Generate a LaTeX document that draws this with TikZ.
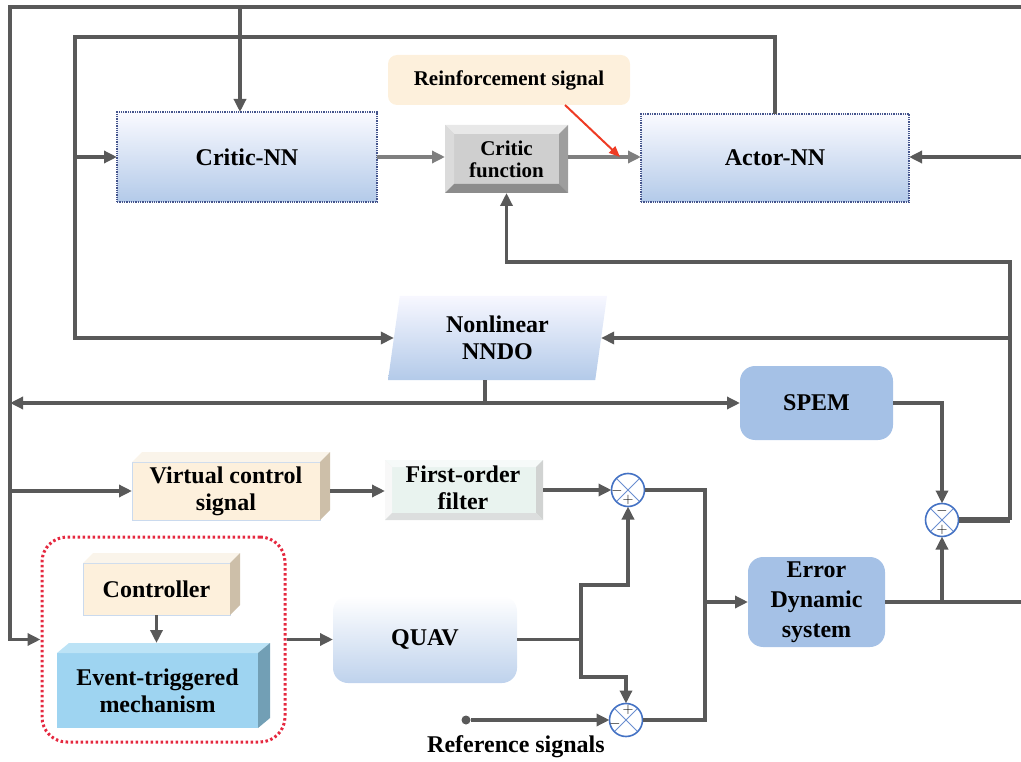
\documentclass[tikz,border=0pt]{standalone}
\usepackage{fontspec}
\setmainfont{Liberation Serif}
\usetikzlibrary{arrows.meta,shapes.geometric}
\definecolor{wiregray}{HTML}{595959}
\definecolor{softgray}{HTML}{7F7F7F}
\definecolor{nnblue}{HTML}{B3CAE9}
\definecolor{nnedge}{HTML}{44548C}
\definecolor{boxblue}{HTML}{A5C1E6}
\definecolor{sumblue}{HTML}{4472C4}
\definecolor{cream}{HTML}{FDF0DC}
\definecolor{creamtop}{HTML}{FAF4EA}
\definecolor{creamside}{HTML}{CDBFA9}
\definecolor{creamedge}{HTML}{CADAEE}
\definecolor{sky}{HTML}{9ED4F1}
\definecolor{skytop}{HTML}{BCE3F6}
\definecolor{skyside}{HTML}{729FB5}
\definecolor{mint}{HTML}{E9F3EF}
\definecolor{dotred}{HTML}{E5283F}
\definecolor{arrred}{HTML}{EE3B24}

\tikzset{
  lbl/.style={font=\bfseries\fontsize{24}{27}\selectfont, align=center,
    inner sep=0pt, outer sep=0pt},
  small lbl/.style={lbl, font=\bfseries\fontsize{21}{22}\selectfont},
  nnbox/.style={lbl, rectangle, draw=nnedge, densely dotted, line width=1.3pt,
    top color=blue!2, bottom color=nnblue},
  bluebox/.style={lbl, rectangle, rounded corners=15pt, fill=boxblue},
  quavbox/.style={lbl, rectangle, rounded corners=15pt, top color=white,
    bottom color=nnblue!85},
  note/.style={lbl, small lbl, rectangle, rounded corners=9pt, fill=cream},
  nndobox/.style={lbl, trapezium, trapezium left angle=75,
    trapezium right angle=105, trapezium stretches body,
    top color=blue!3, bottom color=nnblue},
  creambox/.style={lbl, rectangle, fill=cream, draw=creamedge, line width=0.8pt},
  skybox/.style={lbl, rectangle, fill=sky},
  wire/.style={draw=wiregray, line width=3.6pt},
  arr/.style={wire, -{Triangle[length=13pt,width=12pt]}},
  garr/.style={draw=softgray, line width=3.4pt, -{Triangle[length=13pt,width=12pt]}},
  redarr/.style={draw=arrred, line width=2pt, -{Triangle[length=11pt,width=9pt]}},
  sum/.style={circle, draw=sumblue, line width=1.6pt, minimum size=33pt,
    inner sep=0pt, outer sep=0pt, fill=white,
    path picture={\draw[sumblue!80, line width=1pt]
      (path picture bounding box.north west) -- (path picture bounding box.south east)
      (path picture bounding box.north east) -- (path picture bounding box.south west);}},
  sign/.style={font=\fontsize{15}{15}\selectfont, inner sep=0pt},
}

\begin{document}
\begin{tikzpicture}[x=1pt,y=-1pt]
\useasboundingbox (0,0) rectangle (1021,762);

% actor / critic part
\node[nnbox, minimum width=260, minimum height=90] (critic) at (247,157) {Critic-NN};
\node[nnbox, minimum width=268, minimum height=88] (actor) at (775,158) {Actor-NN};
\node[small lbl, rectangle, fill=black!19, minimum width=123, minimum height=68]
  (cfun) at (506.5,159) {Critic\\function};
\fill[black!9] (cfun.north west) -- (cfun.north east)
  -- ([shift={(-9,9)}]cfun.north east) -- ([shift={(9,9)}]cfun.north west) -- cycle;
\fill[black!14] (cfun.north west) -- ([shift={(9,9)}]cfun.north west)
  -- ([shift={(9,-9)}]cfun.south west) -- (cfun.south west) -- cycle;
\fill[black!38] (cfun.north east) -- ([shift={(-9,9)}]cfun.north east)
  -- ([shift={(-9,-9)}]cfun.south east) -- (cfun.south east) -- cycle;
\fill[black!45] (cfun.south west) -- ([shift={(9,-9)}]cfun.south west)
  -- ([shift={(-9,-9)}]cfun.south east) -- (cfun.south east) -- cycle;
\node[note, minimum width=242, minimum height=50] (reinf) at (509,80) {Reinforcement signal};
\node[nndobox, minimum width=219, minimum height=84] (nndo) at (497.5,338) {Nonlinear\\NNDO};
\node[bluebox, minimum width=153, minimum height=74] (spem) at (816.5,403) {SPEM};
\node[bluebox, minimum width=137, minimum height=90,
  font=\bfseries\fontsize{24}{30}\selectfont] (err) at (816.5,602) {Error\\Dynamic\\system};

% virtual control and filter
\node[creambox, minimum width=188, minimum height=58] (vcs) at (226,491) {Virtual control\\signal};
\fill[creamtop] (vcs.north west) -- ([shift={(10,-10)}]vcs.north west)
  -- ([shift={(10,-10)}]vcs.north east) -- (vcs.north east) -- cycle;
\fill[creamside] (vcs.north east) -- ([shift={(10,-10)}]vcs.north east)
  -- ([shift={(10,-10)}]vcs.south east) -- (vcs.south east) -- cycle;
\node[lbl, rectangle, fill=mint, minimum width=158, minimum height=60] (filt) at (464,490) {};
\fill[mint!40] (filt.north west) -- (filt.north east)
  -- ([shift={(-7,7)}]filt.north east) -- ([shift={(7,7)}]filt.north west) -- cycle;
\fill[mint!70!black!8] (filt.north west) -- ([shift={(7,7)}]filt.north west)
  -- ([shift={(7,-7)}]filt.south west) -- (filt.south west) -- cycle;
\fill[mint!60!black!40] (filt.north east) -- ([shift={(-7,7)}]filt.north east)
  -- ([shift={(-7,-7)}]filt.south east) -- (filt.south east) -- cycle;
\fill[mint!60!black!30] (filt.south west) -- ([shift={(7,-7)}]filt.south west)
  -- ([shift={(-7,-7)}]filt.south east) -- (filt.south east) -- cycle;
\node[lbl] (filttxt) at (463,488) {First-order\\filter};

% event-triggered part
\node[rectangle, draw=dotred, line width=3pt, dash pattern=on 2.5pt off 2.5pt,
  rounded corners=25pt, minimum width=243, minimum height=205] (trig) at (163.5,639.5) {};
\node[creambox, minimum width=147, minimum height=52] (ctrl) at (156.5,589) {Controller};
\fill[creamtop] (ctrl.north west) -- ([shift={(10,-10)}]ctrl.north west)
  -- ([shift={(10,-10)}]ctrl.north east) -- (ctrl.north east) -- cycle;
\fill[creamside] (ctrl.north east) -- ([shift={(10,-10)}]ctrl.north east)
  -- ([shift={(10,-10)}]ctrl.south east) -- (ctrl.south east) -- cycle;
\node[skybox, minimum width=201, minimum height=75] (etm) at (157.5,690.5) {Event-triggered\\mechanism};
\fill[skytop] (etm.north west) -- ([shift={(12,-10)}]etm.north west)
  -- ([shift={(12,-10)}]etm.north east) -- (etm.north east) -- cycle;
\fill[skyside] (etm.north east) -- ([shift={(12,-10)}]etm.north east)
  -- ([shift={(12,-10)}]etm.south east) -- (etm.south east) -- cycle;
\node[quavbox, minimum width=184, minimum height=87] (quav) at (425,639.5) {QUAV};

% summing junctions
\node[sum] (s1) at (628,490) {};
\node[sum] (s2) at (942,520) {};
\node[sum] (s3) at (626,720) {};
\node[sign] (s1m) at ([shift={(-11,1)}]s1.center) {$-$};
\node[sign] (s1p) at ([shift={(0,10)}]s1.center) {$+$};
\node[sign] (s2m) at ([shift={(0,-9)}]s2.center) {$-$};
\node[sign] (s2p) at ([shift={(0,10)}]s2.center) {$+$};
\node[sign] (s3p) at ([shift={(2,-10)}]s3.center) {$+$};
\node[sign] (s3m) at ([shift={(-11,4)}]s3.center) {$-$};
\node[circle, fill=wiregray, inner sep=0pt, minimum size=9pt] (refdot) at (466,720) {};
\node[lbl] (reflab) at (516,747) {Reference signals};

% free ends and bends
\coordinate (topR) at (1021,7);
\coordinate (topL) at (10,7);
\coordinate (topC) at (240,7);
\coordinate (loopL) at (75,37);
\coordinate (inAct) at (1021,157);
\coordinate (fbR) at (1010,262);
\coordinate (nsplit) at (485,403);
\coordinate (rhit) at (620,157);
\coordinate (mrg) at (705,602);
\coordinate (qsplit) at (581,639.5);
\coordinate (qup) at (581,585);
\coordinate (qdn) at (581,677);
\coordinate (outR) at (1021,602);
\coordinate (etmtop) at ([shift={(0,-10)}]etm.north);

% connectors
\draw[arr] (topR) -- (topL) |- (trig.west);
\draw[arr] (topC) -- (topC |- critic.north);
\draw[arr] (topL |- vcs.west) -- (vcs.west);
\draw[arr] (actor.north) |- (loopL) |- (nndo.west);
\draw[arr] (loopL |- critic.west) -- (critic.west);
\draw[garr] (critic.east) -- (critic.east -| cfun.west);
\draw[garr] (cfun.east |- critic.east) -- (critic.east -| actor.west);
\draw[redarr] ([xshift=56pt]reinf.south) -- (rhit);
\draw[arr] (inAct) -- (inAct -| actor.east);
\draw[wire, line width=5.5pt] (s2.east) -- (s2.east -| fbR);
\draw[arr] (s2.east -| fbR) -- (fbR) -| (cfun.south);
\draw[arr] (fbR |- nndo.east) -- (nndo.east);
\draw[wire] (nndo.south -| nsplit) -- (nsplit);
\draw[arr] (nsplit) -- (spem.west);
\draw[arr] (nsplit) -- (topL |- nsplit);
\draw[arr] (spem.east) -| (s2.north);
\draw[wire] (err.east) -- (outR);
\draw[arr] (s2.south |- err.east) -- (s2.south);
\draw[arr] ([xshift=10pt]vcs.east) -- (vcs.east -| filt.west);
\draw[arr] (filt.east) -- (s1.west);
\draw[wire] (s1.east) -| (mrg);
\draw[wire] (s3.east) -| (mrg);
\draw[arr] (mrg) -- (err.west);
\draw[wire] (quav.east) -- (qsplit);
\draw[arr] (qsplit) -- (qup) -| (s1.south);
\draw[arr] (qsplit) -- (qdn) -| (s3.north);
\draw[arr] (refdot) -- (s3.west);
\draw[arr] (trig.east) -- (quav.west);
\draw[arr] (ctrl.south) -- (ctrl.south |- etmtop);
\end{tikzpicture}
\end{document}
